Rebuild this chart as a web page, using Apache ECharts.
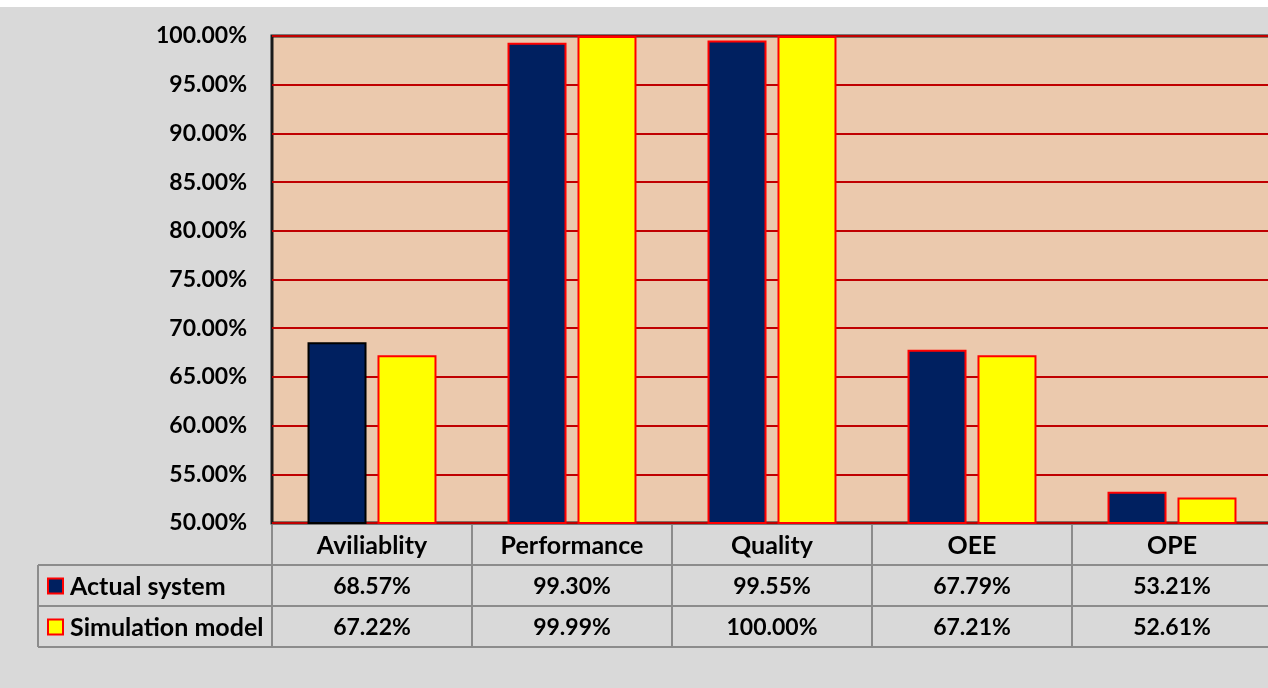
<!DOCTYPE html>
<html>
<head>
<meta charset="utf-8">
<script src="https://cdn.jsdelivr.net/npm/echarts@6/dist/echarts.min.js"></script>
<style>
  html, body { margin: 0; padding: 0; background: #ffffff; }
  #chart { width: 1268px; height: 688px; }
</style>
</head>
<body>
<div id="chart"></div>
<script>
// Efficiency measures compared between the real line and its simulation
const categories = ['Aviliablity', 'Performance', 'Quality', 'OEE', 'OPE'];
const seriesNames = ['Actual system', 'Simulation model'];
const actualSystem = [68.57, 99.30, 99.55, 67.79, 53.21];
const simulationModel = [67.22, 99.99, 100.00, 67.21, 52.61];
const yMin = 50, yMax = 100, yStep = 5;

const FONT = 'Lato, "Liberation Sans", Arial, sans-serif';
const NAVY = '#002060', YELLOW = '#ffff00', RED = '#ff0000';
const GRID = { left: 272, top: 36, width: 1000, height: 487 };
const pct = v => v.toFixed(2) + '%';

const chart = echarts.init(document.getElementById('chart'), null, { renderer: 'canvas' });

const option = {
  backgroundColor: '#d9d9d9',
  animation: false,
  grid: {
    left: GRID.left, top: GRID.top, width: GRID.width, height: GRID.height,
    outerBoundsMode: 'none', containLabel: false,
    show: true, backgroundColor: '#ebc9ad', borderColor: '#1a1a1a', borderWidth: 3
  },
  xAxis: {
    type: 'category', data: categories,
    axisLine: { show: false }, axisTick: { show: false }, axisLabel: { show: false },
    splitLine: { show: false }
  },
  yAxis: {
    type: 'value', min: yMin, max: yMax, interval: yStep,
    axisLine: { show: false }, axisTick: { show: false },
    axisLabel: {
      formatter: v => pct(v), margin: 25,
      fontFamily: FONT, fontWeight: 'bold', fontSize: 23, color: '#000',
      padding: [3, 0, 0, 0]
    },
    splitLine: { lineStyle: { color: '#c00000', width: 2 } }
  },
  series: [
    {
      name: seriesNames[0], type: 'bar', barWidth: 59, barGap: '18.6%',
      data: actualSystem.map((v, i) => ({
        value: v,
        itemStyle: { borderColor: i === 0 ? '#000000' : RED }
      })),
      itemStyle: { color: NAVY, borderColor: RED, borderWidth: 2 }
    },
    {
      name: seriesNames[1], type: 'bar', barWidth: 59,
      data: simulationModel,
      itemStyle: { color: YELLOW, borderColor: RED, borderWidth: 2 }
    }
  ]
};
chart.setOption(option);

// Data table under the plot: header row with categories, then one row per series
function buildTable() {
  const lineStyle = { stroke: '#8c8c8c', lineWidth: 2 };
  const textEl = (x, y, text, size, align) => ({
    type: 'text', silent: true,
    style: {
      x, y, text, fill: '#000', textAlign: align || 'center', textVerticalAlign: 'middle',
      font: 'bold ' + size + 'px ' + FONT
    }
  });
  const els = [];
  const tableLeft = 38, right = 1268;
  const rowTop = GRID.top + GRID.height;          // 523
  const rowLines = [565, 606, 647];
  const colW = GRID.width / categories.length;

  // white band along the very top
  els.push({ type: 'rect', shape: { x: 0, y: 0, width: 1268, height: 7 }, style: { fill: '#ffffff' }, silent: true });

  for (let i = 0; i <= categories.length; i++) {
    const x = GRID.left + i * colW;
    els.push({ type: 'line', shape: { x1: x, y1: rowTop + 2, x2: x, y2: rowLines[2] }, style: lineStyle, silent: true });
  }
  rowLines.forEach(y => {
    els.push({ type: 'line', shape: { x1: tableLeft, y1: y, x2: right, y2: y }, style: lineStyle, silent: true });
  });
  els.push({ type: 'line', shape: { x1: tableLeft, y1: rowLines[0], x2: tableLeft, y2: rowLines[2] }, style: lineStyle, silent: true });

  const headerY = (rowTop + rowLines[0]) / 2 + 2;
  const rowY = [(rowLines[0] + rowLines[1]) / 2 + 1, (rowLines[1] + rowLines[2]) / 2 + 1];
  categories.forEach((c, i) => {
    const cx = chart.convertToPixel({ xAxisIndex: 0 }, c);
    els.push(textEl(cx, headerY, c, 25));
    els.push(textEl(cx, rowY[0], pct(actualSystem[i]), 23));
    els.push(textEl(cx, rowY[1], pct(simulationModel[i]), 23));
  });

  const keyFill = [NAVY, YELLOW];
  seriesNames.forEach((name, r) => {
    els.push({
      type: 'rect', silent: true,
      shape: { x: 48, y: rowY[r] - 8, width: 15, height: 15 },
      style: { fill: keyFill[r], stroke: RED, lineWidth: 2 }
    });
    els.push(textEl(70, rowY[r], name, 25, 'left'));
  });
  chart.setOption({ graphic: { elements: els } });
}
buildTable();
</script>
</body>
</html>
